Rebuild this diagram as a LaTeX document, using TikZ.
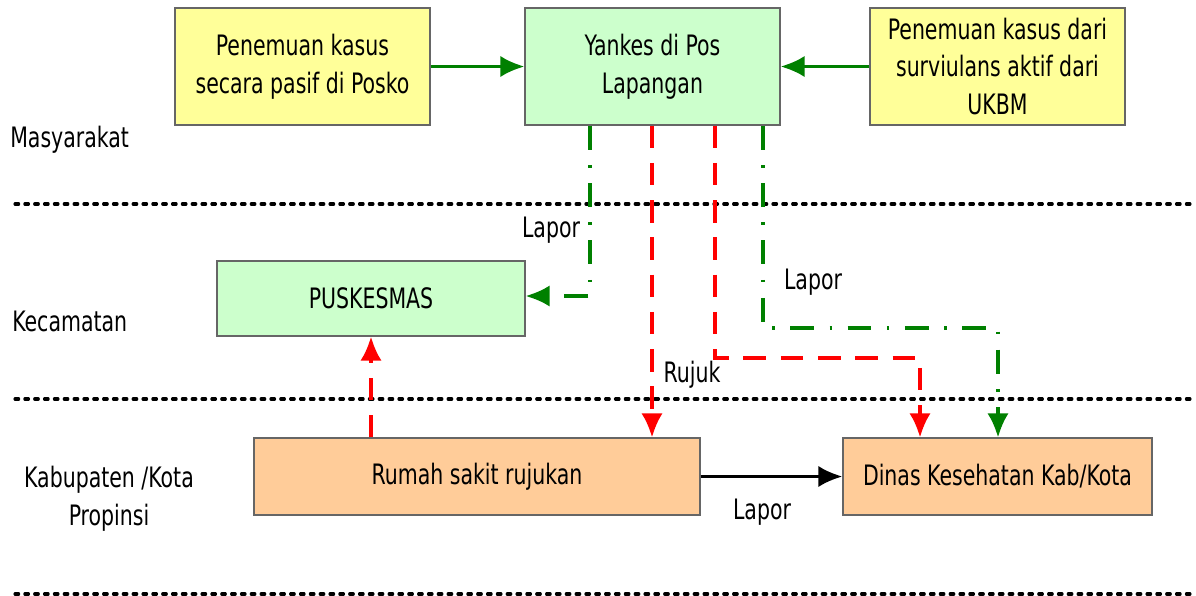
\documentclass[tikz,border=0pt]{standalone}
\usepackage{fontspec}
\setmainfont{DejaVu Sans Condensed}[FakeStretch=0.81]
\usetikzlibrary{arrows.meta}
\definecolor{boxyellow}{HTML}{FFFF99}
\definecolor{boxgreen}{HTML}{CCFFCC}
\definecolor{boxorange}{HTML}{FFCC99}
\definecolor{linegreen}{HTML}{008000}
\definecolor{linered}{HTML}{FF0000}
\tikzstyle{block} = [rectangle, draw=black!60, line width=0.9pt, text centered, align=center, font=\fontsize{20}{27}\selectfont, inner sep=0pt]
\tikzstyle{label} = [font=\fontsize{20}{27}\selectfont, inner sep=0pt]
\tikzstyle{level} = [line width=2.2pt, line cap=round, dash pattern=on 2.6pt off 4.4pt]
\tikzstyle{arrow} = [line width=2.2pt, -{Latex[length=17pt,width=15pt]}]
\tikzstyle{greendash} = [arrow, draw=linegreen, dash pattern=on 17pt off 11pt on 1.8pt off 11pt]
\tikzstyle{reddash} = [arrow, draw=linered, dash pattern=on 16pt off 10.5pt]

\begin{document}
\begin{tikzpicture}[x=0.025cm, y=-0.025cm]
            \useasboundingbox (0,0) rectangle (1196,595);

            % separators between the levels
            \draw [level] (15,204) -- (1196,204);
            \draw [level] (15,399) -- (1196,399);
            \draw [level] (15,594) -- (1196,594);

            \node (masyarakat) [label, anchor=west] at (10,140) {Masyarakat};
            \node (kecamatan) [label, anchor=west] at (12,321) {Kecamatan};
            \node (kabupaten) [label, align=center] at (109,499) {Kabupaten /Kota\\Propinsi};

            \node (pasif) [block, fill=boxyellow, minimum width=255*0.025cm, minimum height=117*0.025cm] at (302.5,66.5) {Penemuan kasus\\secara pasif di Posko};
            \node (yankes) [block, fill=boxgreen, minimum width=255*0.025cm, minimum height=117*0.025cm] at (652.5,66.5) {Yankes di Pos\\Lapangan};
            \node (aktif) [block, fill=boxyellow, minimum width=255*0.025cm, minimum height=117*0.025cm] at (997.5,66.5) {Penemuan kasus dari\\surviulans aktif dari\\UKBM};
            \node (puskesmas) [block, fill=boxgreen, minimum width=308*0.025cm, minimum height=75*0.025cm] at (371,298.5) {PUSKESMAS};
            \node (rumahsakit) [block, fill=boxorange, minimum width=446*0.025cm, minimum height=77*0.025cm] at (477,476.5) {Rumah sakit rujukan};
            \node (dinas) [block, fill=boxorange, minimum width=309*0.025cm, minimum height=77*0.025cm] at (997.5,476.5) {Dinas Kesehatan Kab/Kota};

            \draw [arrow, draw=linegreen] (pasif) -- (yankes);
            \draw [arrow, draw=linegreen] (aktif) -- (yankes);

            \draw [greendash] (yankes.south -| 590,0) |- (puskesmas.east |- 0,296);
            \draw [reddash] (yankes.south -| 652,0) -- (rumahsakit.north -| 652,0);
            \draw [reddash] (yankes.south -| 715,0) |- (920,358) -- (dinas.north -| 920,0);
            \draw [greendash] (yankes.south -| 763,0) |- (998,328) -- (dinas.north -| 998,0);
            \draw [reddash] (rumahsakit.north -| 371,0) -- (puskesmas.south -| 371,0);
            \draw [arrow] (rumahsakit) -- (dinas);

            \node (lapor1) [label] at (551,230) {Lapor};
            \node (lapor2) [label] at (813,282) {Lapor};
            \node (rujuk) [label] at (692,375) {Rujuk};
            \node (lapor3) [label] at (762,512) {Lapor};
        \end{tikzpicture}
\end{document}
